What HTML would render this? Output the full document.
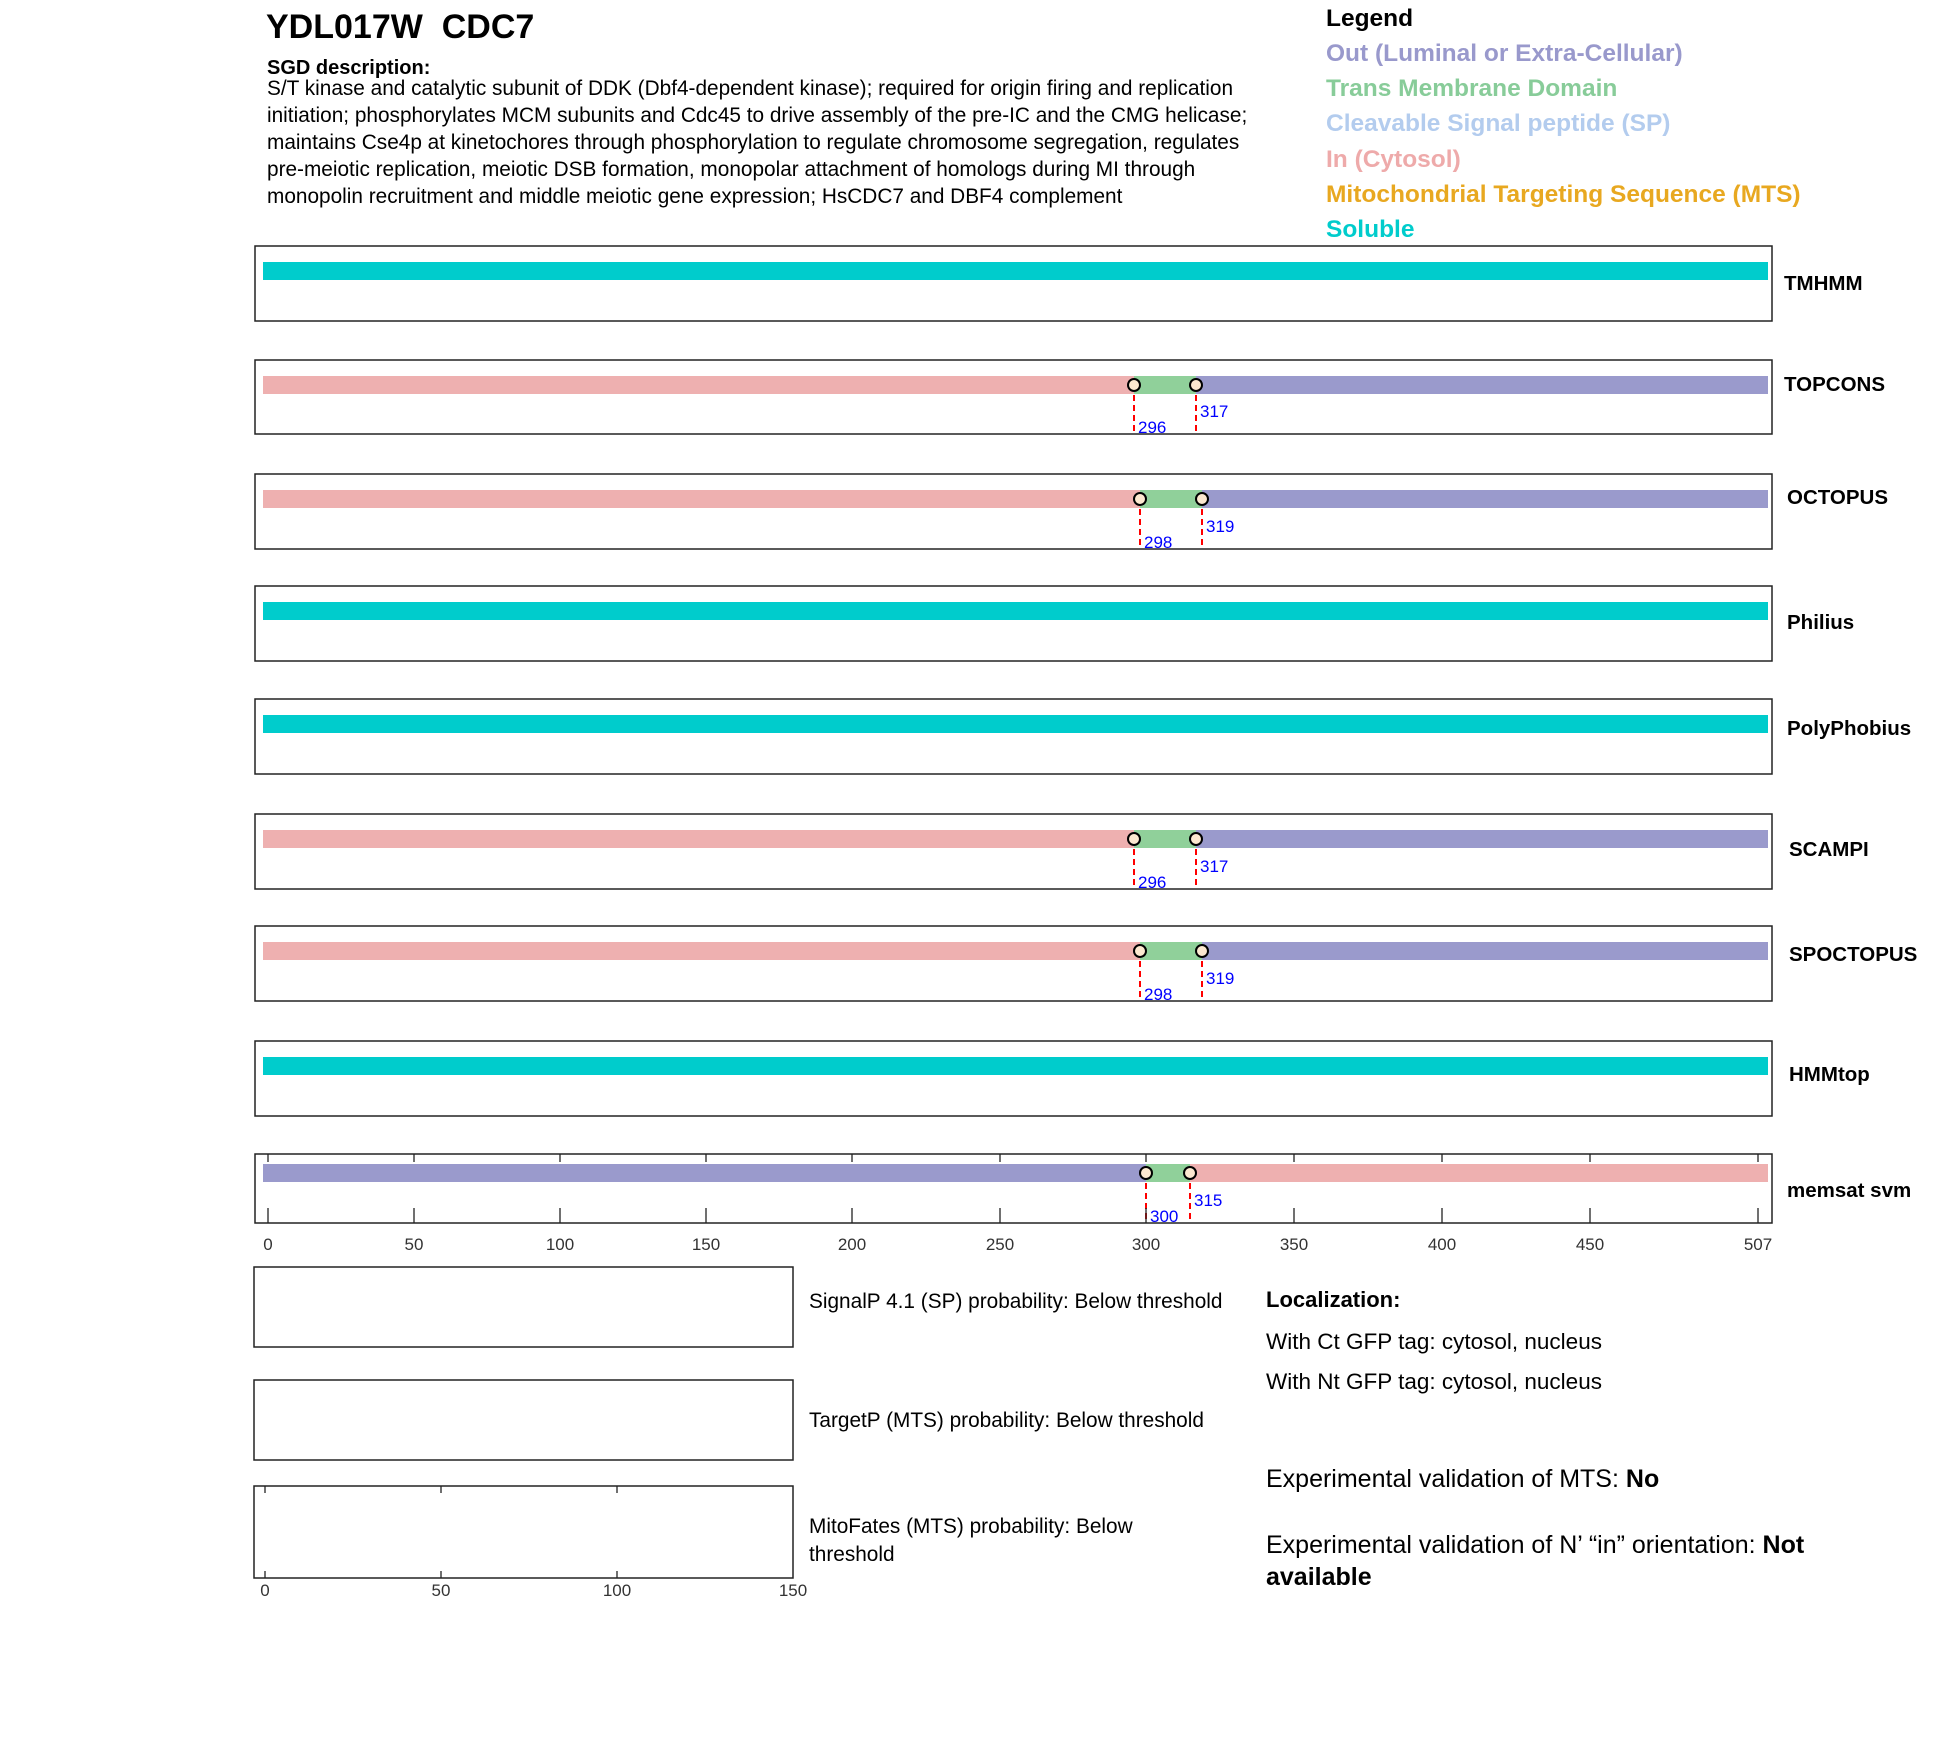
<!DOCTYPE html>
<html><head><meta charset="utf-8"><style>
body{margin:0;background:#fff}
svg{display:block}
text{font-family:"Liberation Sans",Arial,sans-serif}
</style></head><body>
<svg width="1950" height="1761" viewBox="0 0 1950 1761" xmlns="http://www.w3.org/2000/svg">
<text x="266" y="38" font-size="34" font-weight="bold" xml:space="preserve">YDL017W  CDC7</text>
<text x="267" y="74" font-size="20" font-weight="bold">SGD description:</text>
<g font-size="20.8">
<text x="267" y="95">S/T kinase and catalytic subunit of DDK (Dbf4-dependent kinase); required for origin firing and replication</text>
<text x="267" y="122">initiation; phosphorylates MCM subunits and Cdc45 to drive assembly of the pre-IC and the CMG helicase;</text>
<text x="267" y="149">maintains Cse4p at kinetochores through phosphorylation to regulate chromosome segregation, regulates</text>
<text x="267" y="176">pre-meiotic replication, meiotic DSB formation, monopolar attachment of homologs during MI through</text>
<text x="267" y="203">monopolin recruitment and middle meiotic gene expression; HsCDC7 and DBF4 complement</text>
</g>
<g font-size="24.5" font-weight="bold">
<text x="1326" y="26" fill="#000">Legend</text>
<text x="1326" y="61" fill="#9999CC">Out (Luminal or Extra-Cellular)</text>
<text x="1326" y="96" fill="#88CC99">Trans Membrane Domain</text>
<text x="1326" y="131" fill="#B3CCEE">Cleavable Signal peptide (SP)</text>
<text x="1326" y="167" fill="#EEAAAA">In (Cytosol)</text>
<text x="1326" y="202" fill="#E8A820">Mitochondrial Targeting Sequence (MTS)</text>
<text x="1326" y="237" fill="#00CCCC">Soluble</text>
</g>
<g fill="none" stroke="#222" stroke-width="1.5">
<rect x="255" y="246" width="1517" height="75"/>
<rect x="255" y="360" width="1517" height="74"/>
<rect x="255" y="474" width="1517" height="75"/>
<rect x="255" y="586" width="1517" height="75"/>
<rect x="255" y="699" width="1517" height="75"/>
<rect x="255" y="814" width="1517" height="75"/>
<rect x="255" y="926" width="1517" height="75"/>
<rect x="255" y="1041" width="1517" height="75"/>
<rect x="255" y="1154" width="1517" height="69"/>
<rect x="254" y="1267" width="539" height="80"/>
<rect x="254" y="1380" width="539" height="80"/>
<rect x="254" y="1486" width="539" height="92"/>
</g>
<rect x="263" y="262" width="1505" height="18" fill="#00CCCC"/>
<rect x="263" y="602" width="1505" height="18" fill="#00CCCC"/>
<rect x="263" y="715" width="1505" height="18" fill="#00CCCC"/>
<rect x="263" y="1057" width="1505" height="18" fill="#00CCCC"/>
<g>
<rect x="263" y="376" width="871" height="18" fill="#EEB0B0"/><rect x="1134" y="376" width="62" height="18" fill="#90D09A"/><rect x="1196" y="376" width="572" height="18" fill="#9A9ACC"/>
</g>
<g>
<rect x="263" y="490" width="877" height="18" fill="#EEB0B0"/><rect x="1140" y="490" width="62" height="18" fill="#90D09A"/><rect x="1202" y="490" width="566" height="18" fill="#9A9ACC"/>
</g>
<g>
<rect x="263" y="830" width="871" height="18" fill="#EEB0B0"/><rect x="1134" y="830" width="62" height="18" fill="#90D09A"/><rect x="1196" y="830" width="572" height="18" fill="#9A9ACC"/>
</g>
<g>
<rect x="263" y="942" width="877" height="18" fill="#EEB0B0"/><rect x="1140" y="942" width="62" height="18" fill="#90D09A"/><rect x="1202" y="942" width="566" height="18" fill="#9A9ACC"/>
</g>
<g>
<rect x="263" y="1164" width="883" height="18" fill="#9A9ACC"/><rect x="1146" y="1164" width="44" height="18" fill="#90D09A"/><rect x="1190" y="1164" width="578" height="18" fill="#EEB0B0"/>
</g>
<g stroke="#f00" stroke-width="2" stroke-dasharray="6,4">
<line x1="1134" y1="385" x2="1134" y2="434"/><line x1="1196" y1="385" x2="1196" y2="434"/>
<line x1="1140" y1="499" x2="1140" y2="549"/><line x1="1202" y1="499" x2="1202" y2="549"/>
<line x1="1134" y1="839" x2="1134" y2="889"/><line x1="1196" y1="839" x2="1196" y2="889"/>
<line x1="1140" y1="951" x2="1140" y2="1001"/><line x1="1202" y1="951" x2="1202" y2="1001"/>
<line x1="1146" y1="1173" x2="1146" y2="1223"/><line x1="1190" y1="1173" x2="1190" y2="1223"/>
</g>
<g fill="#FCE8D0" stroke="#000" stroke-width="2">
<circle cx="1134" cy="385" r="6"/><circle cx="1196" cy="385" r="6"/>
<circle cx="1140" cy="499" r="6"/><circle cx="1202" cy="499" r="6"/>
<circle cx="1134" cy="839" r="6"/><circle cx="1196" cy="839" r="6"/>
<circle cx="1140" cy="951" r="6"/><circle cx="1202" cy="951" r="6"/>
<circle cx="1146" cy="1173" r="6"/><circle cx="1190" cy="1173" r="6"/>
</g>
<g fill="#0000FF" font-size="17">
<text x="1138" y="433">296</text><text x="1200" y="417">317</text>
<text x="1144" y="548">298</text><text x="1206" y="532">319</text>
<text x="1138" y="888">296</text><text x="1200" y="872">317</text>
<text x="1144" y="1000">298</text><text x="1206" y="984">319</text>
<text x="1150" y="1222">300</text><text x="1194" y="1206">315</text>
</g>
<g font-size="20.5" font-weight="bold">
<text x="1784" y="290">TMHMM</text>
<text x="1784" y="391">TOPCONS</text>
<text x="1787" y="504">OCTOPUS</text>
<text x="1787" y="629">Philius</text>
<text x="1787" y="735">PolyPhobius</text>
<text x="1789" y="856">SCAMPI</text>
<text x="1789" y="961">SPOCTOPUS</text>
<text x="1789" y="1081">HMMtop</text>
<text x="1787" y="1197">memsat svm</text>
</g>
<g stroke="#222" stroke-width="1.3">
<line x1="268" y1="1154" x2="268" y2="1162"/><line x1="268" y1="1223" x2="268" y2="1208"/>
<line x1="414" y1="1154" x2="414" y2="1162"/><line x1="414" y1="1223" x2="414" y2="1208"/>
<line x1="560" y1="1154" x2="560" y2="1162"/><line x1="560" y1="1223" x2="560" y2="1208"/>
<line x1="706" y1="1154" x2="706" y2="1162"/><line x1="706" y1="1223" x2="706" y2="1208"/>
<line x1="852" y1="1154" x2="852" y2="1162"/><line x1="852" y1="1223" x2="852" y2="1208"/>
<line x1="1000" y1="1154" x2="1000" y2="1162"/><line x1="1000" y1="1223" x2="1000" y2="1208"/>
<line x1="1146" y1="1154" x2="1146" y2="1162"/><line x1="1146" y1="1223" x2="1146" y2="1208"/>
<line x1="1294" y1="1154" x2="1294" y2="1162"/><line x1="1294" y1="1223" x2="1294" y2="1208"/>
<line x1="1442" y1="1154" x2="1442" y2="1162"/><line x1="1442" y1="1223" x2="1442" y2="1208"/>
<line x1="1590" y1="1154" x2="1590" y2="1162"/><line x1="1590" y1="1223" x2="1590" y2="1208"/>
<line x1="1758" y1="1154" x2="1758" y2="1162"/><line x1="1758" y1="1223" x2="1758" y2="1208"/>
<line x1="265" y1="1486" x2="265" y2="1493"/><line x1="265" y1="1578" x2="265" y2="1571"/>
<line x1="441" y1="1486" x2="441" y2="1493"/><line x1="441" y1="1578" x2="441" y2="1571"/>
<line x1="617" y1="1486" x2="617" y2="1493"/><line x1="617" y1="1578" x2="617" y2="1571"/>
</g>
<g font-size="17" fill="#333" text-anchor="middle">
<text x="268" y="1250">0</text><text x="414" y="1250">50</text><text x="560" y="1250">100</text>
<text x="706" y="1250">150</text><text x="852" y="1250">200</text><text x="1000" y="1250">250</text>
<text x="1146" y="1250">300</text><text x="1294" y="1250">350</text><text x="1442" y="1250">400</text>
<text x="1590" y="1250">450</text><text x="1758" y="1250">507</text>
<text x="265" y="1596">0</text><text x="441" y="1596">50</text><text x="617" y="1596">100</text><text x="793" y="1596">150</text>
</g>
<g font-size="20.8">
<text x="809" y="1308">SignalP 4.1 (SP) probability: Below threshold</text>
<text x="809" y="1427">TargetP (MTS) probability: Below threshold</text>
<text x="809" y="1533">MitoFates (MTS) probability: Below</text>
<text x="809" y="1561">threshold</text>
</g>
<text x="1266" y="1307" font-size="22" font-weight="bold">Localization:</text>
<text x="1266" y="1349" font-size="22.5">With Ct GFP tag: cytosol, nucleus</text>
<text x="1266" y="1389" font-size="22.5">With Nt GFP tag: cytosol, nucleus</text>
<text x="1266" y="1487" font-size="25">Experimental validation of MTS: <tspan font-weight="bold">No</tspan></text>
<text x="1266" y="1553" font-size="25">Experimental validation of N’ “in” orientation: <tspan font-weight="bold">Not</tspan></text>
<text x="1266" y="1585" font-size="25" font-weight="bold">available</text>
</svg>
</body></html>
